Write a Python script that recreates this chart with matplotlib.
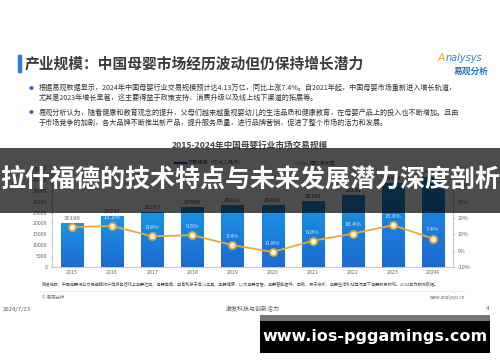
import matplotlib
matplotlib.use("Agg")
import matplotlib.pyplot as plt
import numpy as np
from matplotlib.patches import Rectangle
from matplotlib.lines import Line2D
from matplotlib.colors import LinearSegmentedColormap

plt.rcParams['font.family'] = ['Noto Sans CJK SC', 'DejaVu Sans']

# ---------------- data ----------------
years = ["2015", "2016", "2017", "2018", "2019", "2020", "2021", "2022", "2023", "2024F"]
scale = [20199, 23247, 25287, 27689, 28631, 28400, 30100, 33230, 38414, 41257]
growth = [14.5, 15.1, 8.8, 9.5, 3.4, -0.8, 6.0, 10.4, 15.6, 7.4]
growth_labels = ["14.5%", "15.1%", "8.8%", "9.5%", "3.4%", "-0.8%", "6.0%", "10.4%", "15.6%", "7.4%"]
left_ticks = [0, 5000, 10000, 15000, 20000, 25000, 30000, 35000, 40000, 45000]
right_ticks = [-10, 0, 10, 20, 30, 40, 50]

title = "产业规模：中国母婴市场经历波动但仍保持增长潜力"
bullets = [
    ["根据易观数据显示，2024年中国母婴行业交易规模预计达4.13万亿，同比上涨7.4%。自2021年起，中国母婴市场重新进入增长轨道，",
     "尤其是2023年增长显著，这主要得益于政策支持、消费升级以及线上线下渠道的拓展等。"],
    ["易观分析认为，随着健康和教育观念的提升，父母们越来越重视婴幼儿的生活品质和健康教育，在母婴产品上的投入也不断增加。且由",
     "于市场竞争的加剧，各大品牌不断推出新产品，提升服务质量，进行品牌营销，促进了整个市场的活力和发展。"],
]
chart_title = "2015-2024年中国母婴行业市场交易规模"
legend_bar = "交易规模（亿元人民币）"
legend_line = "同比增长率"
source_note = ("数据说明：中国母婴行业交易规模统计范畴包括线上母婴社区、母婴电商、孕育和亲子育儿工具、孕婴健康，以及母婴零售、"
               "母婴智能硬件、早教、月子会所、母婴生活补贴等场景下母婴服务领域。2024年为预测数据。")
overlay_text = "拉什福德的技术特点与未来发展潜力深度剖析"
url_text = "www.ios-pggamings.com"

W, H = 500, 362
fig = plt.figure(figsize=(W / 100, H / 100), dpi=100)
fig.patch.set_facecolor("white")


def P(x, y):
    return (x / W, 1 - y / H)


def ftext(x, y, s, **kw):
    fx, fy = P(x, y)
    return fig.text(fx, fy, s, transform=fig.transFigure, **kw)


# ---------------- header ----------------
fig.patches.append(Rectangle(P(18, 72), 3 / W, 17 / H, transform=fig.transFigure,
                             color="#2a7de1", zorder=2))
ftext(25, 63, title, fontsize=10.6, fontweight="bold", color="#3a3a3a", va="center", ha="left")
ftext(441, 58, "A", fontsize=7.5, style="italic", color="#f0a020", va="center", ha="center",
      family=["DejaVu Sans"], zorder=3)
ftext(446, 58, "nalysys", fontsize=7, style="italic", color="#2a86d8", va="center", ha="left",
      family=["DejaVu Sans"])
ftext(471, 71, "易观分析", fontsize=6.3, fontweight="bold", color="#1f6fc4", va="center", ha="center")

by = [[88, 98], [113, 123]]
for b, ys in zip(bullets, by):
    ftext(31, ys[0], "●", fontsize=3.5, color="#2a6fc9", va="center", ha="center")
    for line, yy in zip(b, ys):
        ftext(39, yy, line, fontsize=5.1, color="#333333", va="center", ha="left")

# ---------------- chart ----------------
ftext(250, 145, chart_title, fontsize=6.2, fontweight="bold", color="#444444", va="center", ha="center")

# legend
fig.add_artist(Line2D([P(175, 0)[0], P(186, 0)[0]], [P(0, 163)[1]] * 2, transform=fig.transFigure,
                      color="#1b5f9e", lw=1.6))
ftext(188, 163, legend_bar, fontsize=3.7, color="#555555", va="center", ha="left")
fig.add_artist(Line2D([P(295, 0)[0], P(306, 0)[0]], [P(0, 163)[1]] * 2, transform=fig.transFigure,
                      color="#e9a93a", lw=0.9))
fig.add_artist(Line2D([P(300.5, 0)[0]], [P(0, 163)[1]], transform=fig.transFigure,
                      color="#e9a93a", marker="o", ms=2.5, mfc="#fff6dd", mec="#e9a93a", mew=0.7, lw=0))
ftext(309, 163, legend_line, fontsize=3.7, color="#555555", va="center", ha="left")

x0, y0 = P(52, 267)
ax = fig.add_axes([x0, y0, 401 / W, 98 / H])
ax.set_facecolor("none")
x = np.arange(len(years))
bars = ax.bar(x, scale, width=0.55, color="#1b8ade", zorder=2)
cmap = LinearSegmentedColormap.from_list("bg", ["#1d6ad0", "#1b95e6"])
grad = np.linspace(0, 1, 64).reshape(-1, 1)
for r in bars:
    bx, bw, bh = r.get_x(), r.get_width(), r.get_height()
    im = ax.imshow(grad, extent=[bx, bx + bw, 0, bh], origin="lower", aspect="auto", cmap=cmap, zorder=2.5)
    im.set_clip_path(r)
ax.set_xlim(-0.5, len(years) - 0.5)
ax.set_ylim(0, 45000)
ax.set_yticks(left_ticks)
ax.set_yticklabels([str(t) for t in left_ticks])
ax.set_xticks(x)
ax.set_xticklabels(years)
for i, v in enumerate(scale):
    ax.annotate(str(v), (i, v), xytext=(0, 1.5), textcoords="offset points", ha="center", va="bottom",
                fontsize=4.3, color="#444444", zorder=5)

ax2 = ax.twinx()
ax2.set_ylim(-10, 50)
ax2.set_yticks(right_ticks)
ax2.set_yticklabels([f"{t}%" for t in right_ticks])
ax2.plot(x, growth, color="#e9a93a", lw=1.3, marker="o", ms=5, mfc="#fff6dd", mec="#e9a93a", mew=1.3,
         zorder=4)
for i, (g, s) in enumerate(zip(growth, growth_labels)):
    ax2.annotate(s, (i, g), xytext=(0, 4.5), textcoords="offset points", ha="center", va="bottom",
                 fontsize=4.2, color="#d6ebf8", zorder=5)

for a in (ax, ax2):
    a.spines["top"].set_visible(False)
    for sp in ("left", "right", "bottom"):
        a.spines[sp].set_color("#c8c8c8")
        a.spines[sp].set_linewidth(0.6)
    a.tick_params(axis="both", labelsize=3.8, labelcolor="#666666", length=1.5, width=0.5, color="#c8c8c8",
                  pad=2)
ax.tick_params(axis="x", length=0, pad=2.5)

# ---------------- footer of slide ----------------
ftext(42, 284, source_note, fontsize=3.0, color="#555555", va="center", ha="left")
fig.add_artist(Line2D([P(40, 0)[0], P(465, 0)[0]], [P(0, 291)[1]] * 2, transform=fig.transFigure,
                      color="#d8d8d8", lw=0.5, ls=(0, (2, 1))))
ftext(42, 297, "© 易观分析", fontsize=3.2, color="#666666", va="center", ha="left")
ftext(465, 297, "www.analysys.cn", fontsize=3.2, color="#666666", va="center", ha="right")
ftext(3, 309, "2024/7/23", fontsize=4.3, color="#555555", va="center", ha="left")
ftext(253, 309, "激发科技与创新活力", fontsize=4.3, color="#555555", va="center", ha="center")
ftext(488, 309, "4", fontsize=4.3, color="#555555", va="center", ha="center")

# ---------------- overlays ----------------
fig.patches.append(Rectangle(P(0, 213), 1, 65 / H, transform=fig.transFigure, color="black", alpha=0.7,
                             zorder=10, lw=0))
ftext(250, 180, overlay_text, fontsize=18, fontweight="bold", color="white", va="center", ha="center",
      zorder=11)

fig.patches.append(Rectangle(P(260, 321), 230 / W, 6 / H, transform=fig.transFigure, color="#777777",
                             zorder=10, lw=0))
fig.patches.append(Rectangle(P(260, 353), 230 / W, 32 / H, transform=fig.transFigure, color="black",
                             zorder=10, lw=0))
ftext(375, 337, url_text, fontsize=11.5, fontweight="bold", color="white", va="center", ha="center",
      family=["DejaVu Sans"], zorder=11)

fig.savefig("out.png", dpi=100)
